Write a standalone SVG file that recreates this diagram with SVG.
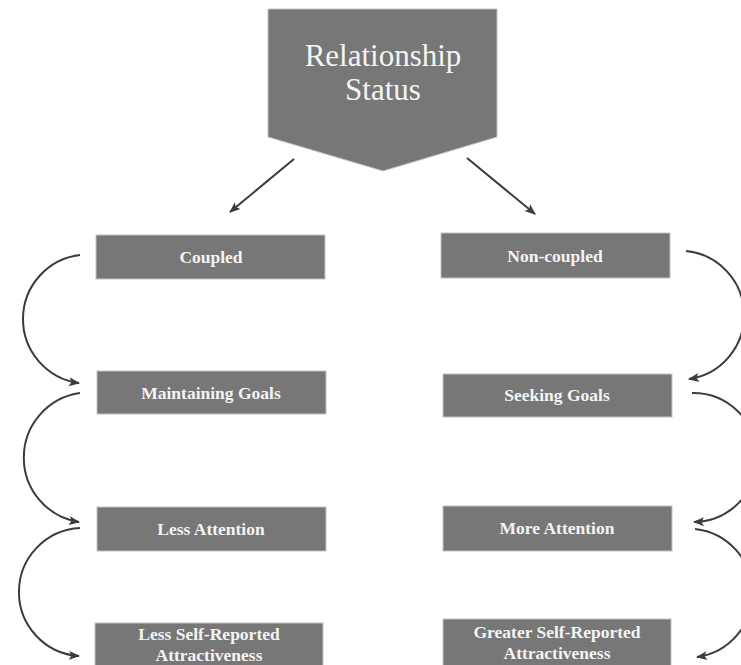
<svg xmlns="http://www.w3.org/2000/svg" width="741" height="665" viewBox="0 0 741 665">
<style>
.box{fill:#777777;stroke:#c4c4c4;stroke-width:1}
.lbl{font-family:"Liberation Serif",serif;font-weight:bold;font-size:17.5px;fill:#f4f4f4;text-anchor:middle}
.title{font-family:"Liberation Serif",serif;font-size:31px;fill:#f4f4f4;text-anchor:middle}
.con{fill:none;stroke:#3c3c3c;stroke-width:2;marker-end:url(#ah)}
</style>
<defs>
<marker id="ah" markerUnits="userSpaceOnUse" markerWidth="12" markerHeight="10" refX="10" refY="4.5" orient="auto" viewBox="0 0 12 9">
<path d="M0,0 L11,4.5 L0,9 L2.5,4.5 z" fill="#3c3c3c"/>
</marker>
</defs>
<rect width="741" height="665" fill="#ffffff"/>
<g id="relationship-status">
<polygon class="box" points="268,9 497,9 497,137 383,171 268,137" stroke="none"/>
<text class="title" x="383" y="66">Relationship</text>
<text class="title" x="383" y="100">Status</text>
</g>
<g id="coupled"><rect class="box" x="96" y="235" width="229" height="44"/><text class="lbl" x="211" y="263">Coupled</text></g>
<g id="maintaining-goals"><rect class="box" x="97" y="371" width="229" height="43"/><text class="lbl" x="211" y="399">Maintaining Goals</text></g>
<g id="less-attention"><rect class="box" x="97" y="507" width="229" height="44"/><text class="lbl" x="211" y="535">Less Attention</text></g>
<g id="less-attractiveness"><rect class="box" x="95" y="623" width="228" height="60"/><text class="lbl" x="209" y="640">Less Self-Reported</text><text class="lbl" x="209" y="661">Attractiveness</text></g>
<g id="non-coupled"><rect class="box" x="441" y="233" width="229" height="45"/><text class="lbl" x="555" y="262">Non-coupled</text></g>
<g id="seeking-goals"><rect class="box" x="443" y="374" width="229" height="43"/><text class="lbl" x="557" y="401">Seeking Goals</text></g>
<g id="more-attention"><rect class="box" x="443" y="506" width="229" height="45"/><text class="lbl" x="557" y="534">More Attention</text></g>
<g id="greater-attractiveness"><rect class="box" x="443" y="619" width="228" height="60"/><text class="lbl" x="557" y="638">Greater Self-Reported</text><text class="lbl" x="557" y="659">Attractiveness</text></g>
<g id="connectors">
<path class="con" d="M294,159 L230,212"/>
<path class="con" d="M467,158 L535,214"/>
<path class="con" d="M80,255 A64.5,64.5 0 0 0 79,383"/>
<path class="con" d="M80,393 A65.2,65.2 0 0 0 79,522"/>
<path class="con" d="M80,528 A64.1,64.1 0 0 0 79,656"/>
<path class="con" d="M686,251 A64.5,64.5 0 0 1 689,379"/>
<path class="con" d="M692,393 A64.5,64.5 0 0 1 694,522"/>
<path class="con" d="M695,529 A64.5,64.5 0 0 1 697,657"/>
</g>
</svg>
